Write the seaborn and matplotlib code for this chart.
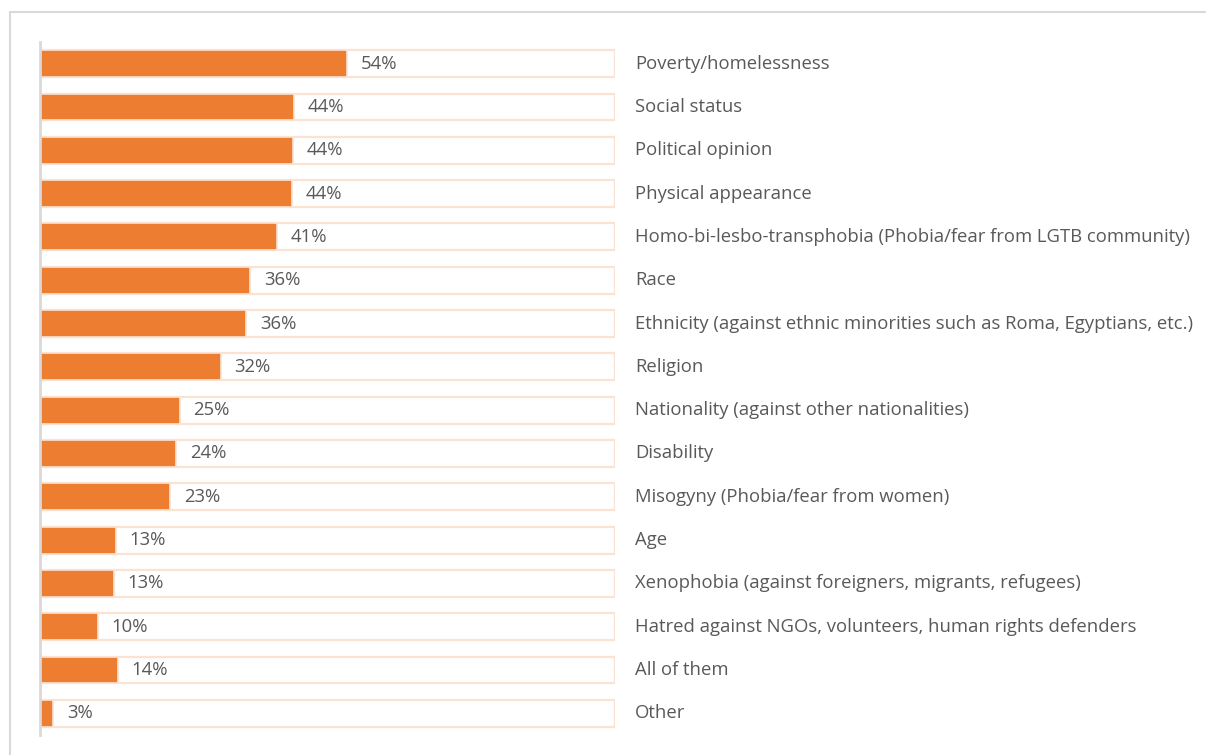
import matplotlib
matplotlib.use('Agg')
import matplotlib.pyplot as plt
from matplotlib.patches import Rectangle
import seaborn as sns
import pandas as pd

categories = ['Poverty/homelessness', 'Social status', 'Political opinion', 'Physical appearance',
              'Homo-bi-lesbo-transphobia (Phobia/fear from LGTB community)', 'Race',
              'Ethnicity (against ethnic minorities such as Roma, Egyptians, etc.)', 'Religion',
              'Nationality (against other nationalities)', 'Disability',
              'Misogyny (Phobia/fear from women)', 'Age',
              'Xenophobia (against foreigners, migrants, refugees)',
              'Hatred against NGOs, volunteers, human rights defenders', 'All of them', 'Other']
values = [54, 44, 44, 44, 41, 36, 36, 32, 25, 24, 23, 13, 13, 10, 14, 3]
# bar length in the picture, the label is rounded
lengths = [53.4, 44.2, 44.0, 43.8, 41.2, 36.5, 35.8, 31.4, 24.3, 23.7, 22.6, 13.2, 12.8, 10.0, 13.5, 2.3]
full = [100] * len(categories)

df = pd.DataFrame({'cat': categories, 'val': values, 'len': lengths, 'full': full})

sns.set_style('white')
plt.rcParams['font.family'] = ['Open Sans', 'DejaVu Sans']

fig = plt.figure(figsize=(12.06, 7.55), dpi=100)
ax = fig.add_axes([40 / 1206, 20 / 755, 575 / 1206, 693 / 755])

peach = '#fbe3d3'
orange = '#ed7d31'
sns.barplot(data=df, x='full', y='cat', color='white', edgecolor=peach, linewidth=1.6,
            width=0.62, ax=ax, saturation=1)
sns.barplot(data=df, x='len', y='cat', color=orange, edgecolor=peach, linewidth=1.2,
            width=0.62, ax=ax, saturation=1)

ax.set_xlim(0, 100)
ax.set_ylim(15.5, -0.5)
ax.set_xlabel('')
ax.set_ylabel('')
ax.set_xticks([])
ax.set_yticks([])
for s in ['top', 'right', 'bottom']:
    ax.spines[s].set_visible(False)
ax.spines['left'].set_color('#d9d9d9')
ax.spines['left'].set_linewidth(2)

txt = '#595959'
for i, (c, v, l) in enumerate(zip(categories, values, lengths)):
    ax.annotate(f'{v}%', xy=(l, i), xytext=(10, 0), textcoords='offset points',
                va='center', ha='left', fontsize=13.3, color=txt)
    ax.text(103.5, i, c, va='center', ha='left', fontsize=13.3, color=txt, clip_on=False)

# outer frame of the chart area
fig.patches.append(Rectangle((10 / 1206, -0.05), 1.2, 0.984 + 0.05, transform=fig.transFigure,
                             fill=False, edgecolor='#d9d9d9', linewidth=1.5))

fig.savefig('out.png', dpi=100)
